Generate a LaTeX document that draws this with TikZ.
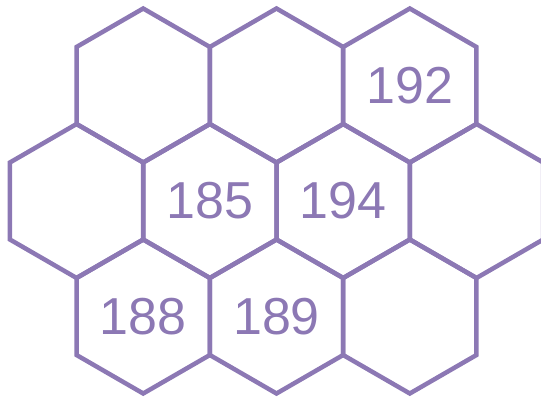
\documentclass[tikz,border=0pt]{standalone}
\usepackage{fontspec}
\setmainfont{Liberation Sans}
\usetikzlibrary{shapes.geometric}
\definecolor{hexpurple}{RGB}{140,120,180}
\tikzset{
  hexcell/.style={regular polygon, regular polygon sides=6, shape border rotate=30,
    minimum size=154pt, inner sep=0pt, draw=hexpurple, line width=4.5pt,
    text=hexpurple, font=\fontsize{52}{58}\selectfont}
}
\begin{document}
\begin{tikzpicture}[x=1pt,y=1pt]
    \useasboundingbox (0,0) rectangle (541,397);
    \clip (0,0) rectangle (541,397);

    % Top row
    \node[hexcell] (t1) at (143.2,311.5) {};
    \node[hexcell] (t2) at (276.5,311.5) {};
    \node[hexcell] (t3) at (409.8,311.5) {192};

    % Middle row
    \node[hexcell] (m1) at (76.6,196) {};
    \node[hexcell] (m2) at (209.9,196) {185};
    \node[hexcell] (m3) at (343.2,196) {194};
    \node[hexcell] (m4) at (476.5,196) {};

    % Bottom row
    \node[hexcell] (b1) at (143.2,80.5) {188};
    \node[hexcell] (b2) at (276.5,80.5) {189};
    \node[hexcell] (b3) at (409.8,80.5) {};
\end{tikzpicture}
\end{document}
